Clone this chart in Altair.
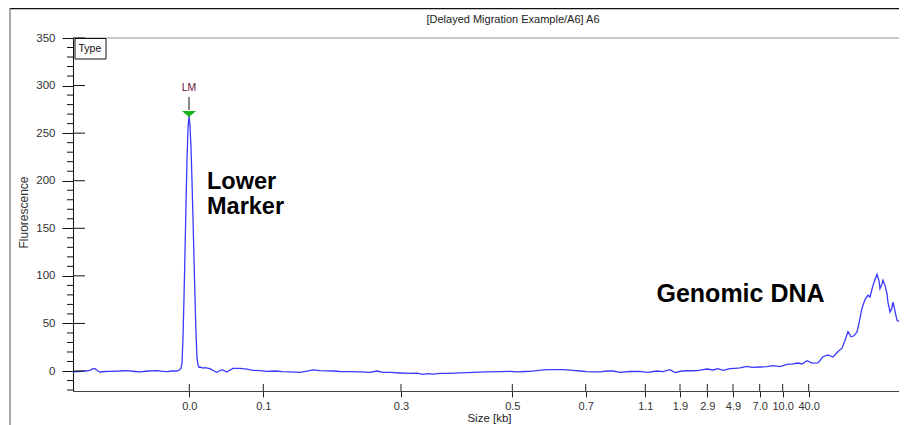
import altair as alt
import pandas as pd

# ---------------- data ----------------
# migration-time axis position (arbitrary units) and fluorescence
time = [
    0, 5, 12, 17, 20, 22, 25, 27, 32, 37,
    47, 54, 62, 67, 75, 84, 90, 94, 99, 104,
    107, 108, 109, 110, 111, 112, 113, 114, 115, 116,
    117, 118, 119, 120, 121, 122, 123, 124, 125, 126,
    127, 130, 132, 137, 141, 144, 146, 149, 154, 157,
    160, 167, 174, 180, 187, 194, 202, 210, 217, 227,
    234, 240, 247, 260, 267, 277, 287, 297, 304, 310,
    317, 327, 337, 344, 350, 355, 360, 367, 377, 387,
    400, 412, 427, 437, 444, 452, 457, 464, 470, 477,
    484, 490, 497, 500, 507, 514, 520, 527, 534, 540,
    547, 557, 567, 575, 584, 590, 597, 602, 609, 617,
    624, 629, 634, 640, 645, 650, 657, 662, 667, 674,
    679, 687, 694, 700, 707, 714, 720, 725, 729, 734,
    739, 745, 750, 755, 760, 765, 769, 772, 775, 778,
    781, 784, 786, 789, 792, 795, 797, 800, 802, 804,
    806, 807, 808.5, 810, 812, 814, 815, 817, 818.5, 820,
    822, 824, 826, 829, 831, 834,
]
fluorescence = [
    -1, -0.5, 0, 0.7, 2.5, 2.5, 0, -1, -0.5, -0.3,
    0, 0.4, -0.5, -1, 0, 0.4, -0.3, -0.7, 0, 0,
    1.5, 3, 8, 35, 77, 125, 175, 222, 255, 268,
    258, 235, 200, 160, 118, 77, 40, 14, 6, 4,
    4.2, 3, 3.5, 2.5, 0, -1.4, 0, 1.4, -1, 1,
    2.8, 2.8, 2, 0.7, 0.5, -0.3, 0, -0.7, -0.8, -1.5,
    0, 1.1, 0.5, 0, -0.5, -0.7, -1, -1.4, 0, -1.4,
    -1.5, -2.1, -2.5, -2.3, -3.5, -2.8, -3.2, -2.5, -2.5, -2,
    -1.4, -1, -0.7, -0.3, -1, -0.5, -0.3, 0.5, 1.1, 1.5,
    1.4, 1.4, 1, 0.7, 0, -0.7, -1, -1, 0, 0,
    -1.4, -0.5, -0.3, -1.4, 0, -0.7, 1.4, -1.7, 0, 0.3,
    0.4, 1.2, 2.1, 1.1, 2.5, 0.7, 2.5, 2.8, 3.2, 4.9,
    3.9, 4.2, 4.6, 5.6, 4.6, 7, 7.4, 8.4, 7.4, 10.9,
    8.4, 8.6, 15, 17, 14.7, 20.5, 24, 32, 41.5, 36,
    37, 41, 50, 66, 75, 79.6, 77.8, 90, 96, 101.6,
    95, 86.6, 90, 95.3, 90, 81.3, 72, 62, 65, 72.5,
    63, 53.3, 52, 55, 44.5, 23.5,
]
assert len(time) == len(fluorescence)

# size-axis ticks (position on migration-time axis -> size label in kb)
tick_pos = [116.3, 190.3, 328, 439.3, 512.7, 572.3, 607, 634.3, 660, 686.7, 709.7, 735.7]
tick_lab = ["0.0", "0.1", "0.3", "0.5", "0.7", "1.1", "1.9", "2.9", "4.9", "7.0", "10.0", "40.0"]

y_major = [0, 50, 100, 150, 200, 250, 300, 350]
y_minor = [v for v in range(-20, 350, 10) if v % 50 != 0]

# lower-marker peak annotation
lm_time = [116]
lm_value = [268]
lm_label = ["LM"]

# bold annotations
ann1_text = ["Lower", "Marker"]
ann1_time = [134, 134]
ann1_value = [191.7, 165.4]
ann2_text = ["Genomic DNA"]
ann2_time = [583.5]
ann2_value = [72.5]

title_text = "[Delayed Migration Example/A6] A6"

# ---------------- chart ----------------
W, H = 826, 353
FONT = "Liberation Sans"

label_expr = " : ".join(
    f"datum.value == {p} ? '{l}'" for p, l in zip(tick_pos, tick_lab)
) + " : ''"

x_scale = alt.Scale(domain=[0, W], nice=False, zero=False)
y_scale = alt.Scale(domain=[-21, 350], nice=False, zero=False)

x_axis = alt.Axis(
    values=tick_pos, labelExpr=label_expr, title="Size [kb]",
    titleX=416, titleY=27.5, titleBaseline="middle", titleAlign="center",
    titleFont=FONT, titleFontSize=11.5, titleFontWeight="normal", titleColor="#222",
    labelFont=FONT, labelFontSize=11, labelColor="#333", labelPadding=3,
    labelFlush=False, labelOverlap=False,
    tickSize=6, tickColor="#222", domainColor="#444", grid=False,
)
y_axis = alt.Axis(
    values=y_major, title="Fluorescence",
    titleX=-50, titleY=174, titleBaseline="middle", titleAlign="center", titleAngle=270,
    titleFont=FONT, titleFontSize=12, titleFontWeight="normal", titleColor="#333",
    labelFont=FONT, labelFontSize=11.5, labelColor="#333", labelPadding=7,
    labelFlush=False, tickSize=11, tickColor="#111", domainColor="#111", grid=False,
)

X = alt.X("time:Q", scale=x_scale, axis=x_axis)
Y = alt.Y("value:Q", scale=y_scale, axis=y_axis)

curve_df = pd.DataFrame({"time": time, "value": fluorescence})
curve = alt.Chart(curve_df).mark_line(color="#3a3aff", strokeWidth=1.3, clip=True).encode(x=X, y=Y)

# top edge of the plot panel
top_edge = alt.Chart(pd.DataFrame({"value": [350]})).mark_rule(color="#bdbdbd", strokeWidth=1.3).encode(
    y=Y, x=alt.value(0), x2=alt.value(W))

# inner half of the major y ticks and the minor y ticks
ymaj_df = pd.DataFrame({"value": y_major})
ymaj = alt.Chart(ymaj_df).mark_rule(color="#111", strokeWidth=1).encode(
    y=Y, x=alt.value(0), x2=alt.value(12))
ymin_df = pd.DataFrame({"value": y_minor})
ymin = alt.Chart(ymin_df).mark_rule(color="#111", strokeWidth=1).encode(
    y=Y, x=alt.value(-6), x2=alt.value(0))

# inner half of x ticks
xin_df = pd.DataFrame({"time": tick_pos})
xin = alt.Chart(xin_df).mark_rule(color="#222", strokeWidth=1).encode(
    x=X, y=alt.value(H - 7), y2=alt.value(H))

# LM marker
lm_df = pd.DataFrame({"time": lm_time, "value": lm_value, "label": lm_label})
lm_stem = alt.Chart(lm_df).mark_rule(color="#111", strokeWidth=1, yOffset=-6, y2Offset=-19).encode(
    x=X, y=Y, y2="value:Q")
lm_tri = alt.Chart(lm_df).mark_point(
    shape="M-1,-0.43L1,-0.43L0,0.43Z", filled=True, color="#18b418", opacity=1,
    size=196, yOffset=-2).encode(x=X, y=Y)
lm_txt = alt.Chart(lm_df).mark_text(
    font=FONT, fontSize=10.5, color="#6b1236", dy=-28, baseline="middle").encode(
    x=X, y=Y, text="label:N")

# bold annotations
a1_df = pd.DataFrame({"time": ann1_time, "value": ann1_value, "t": ann1_text})
a1 = alt.Chart(a1_df).mark_text(
    font=FONT, fontSize=23.5, fontWeight="bold", color="#000", align="left",
    baseline="alphabetic").encode(x=X, y=Y, text="t:N")
a2_df = pd.DataFrame({"time": ann2_time, "value": ann2_value, "t": ann2_text})
a2 = alt.Chart(a2_df).mark_text(
    font=FONT, fontSize=25, fontWeight="bold", color="#000", align="left",
    baseline="alphabetic").encode(x=X, y=Y, text="t:N")

# frame decorations (window-like panel)
dummy = pd.DataFrame({"k": [0]})
frame_top = alt.Chart(dummy).mark_rule(color="#111", strokeWidth=1.5).encode(
    x=alt.value(-63), x2=alt.value(W), y=alt.value(-29.5))
frame_left = alt.Chart(dummy).mark_rule(color="#555", strokeWidth=1).encode(
    x=alt.value(-63), y=alt.value(-30), y2=alt.value(H + 40))
title = alt.Chart(dummy).mark_text(
    text=title_text, font=FONT, fontSize=11, color="#222", align="center",
    baseline="middle").encode(x=alt.value(440), y=alt.value(-18))
type_box = alt.Chart(dummy).mark_rect(fill="white", stroke="#111", strokeWidth=1).encode(
    x=alt.value(2), x2=alt.value(33), y=alt.value(0.5), y2=alt.value(21))
type_txt = alt.Chart(dummy).mark_text(
    text="Type", font=FONT, fontSize=10.5, color="#111", align="left",
    baseline="middle").encode(x=alt.value(5.5), y=alt.value(11))

chart = alt.layer(
    curve, top_edge, ymaj, ymin, xin, lm_stem, lm_tri, lm_txt, a1, a2,
    frame_top, frame_left, title, type_box, type_txt,
).properties(
    width=W, height=H,
    padding={"left": 65, "top": 30, "right": 0, "bottom": 34},
    autosize=alt.AutoSizeParams(type="none"),
).configure_view(strokeWidth=0).configure(font=FONT)

chart.save("out.html", embed_options={"renderer": "svg", "actions": False})
